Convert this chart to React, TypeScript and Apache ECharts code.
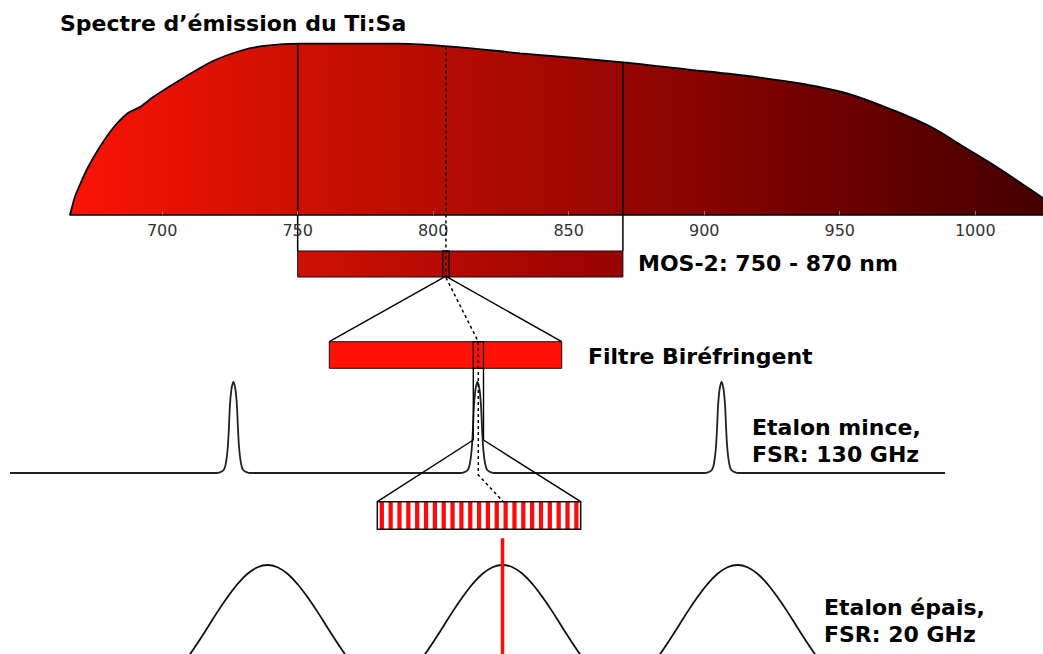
import React, { useEffect, useRef } from "react";
import * as echarts from "echarts";

// ---------- Emission spectrum of Ti:Sa (wavelength nm, relative intensity) ----------
const SPECTRUM_NM = [666, 667.8, 669.6, 672.7, 677, 681.9, 687.4, 691.8, 696.7, 707.2, 718.8, 729.9, 738.5, 750, 786.9, 809.9, 832.1, 870.2, 893.6, 918.2, 936.6, 953.9, 971.1, 984.6, 995.7, 1006.8, 1025];
const SPECTRUM_I = [0, 18, 30, 48, 68, 87, 102, 108, 118, 136, 154, 165, 169.3, 171.3, 171.3, 167.7, 161.7, 152.7, 145.7, 138.3, 131, 120.7, 103.3, 86.7, 68.3, 50, 17];
const AXIS_TICKS_NM = [700, 750, 800, 850, 900, 950, 1000];
const MOS_RANGE_NM = [750, 870];
const MOS_WINDOW_NM = [803.5, 805.9];
const SELECTED_NM = 804.7;

// ---------- Thin etalon (FSR 130 GHz) ----------
const THIN_RANGE_GHZ = [-249, 249];
const THIN_PEAKS_GHZ = [-130, 0, 130];
const THIN_PROFILE_OFFSET = [-9.1, -6.9, -5.3, -4.3, -3.5, -2.9, -2.4, -1.9, -1.3, -0.8, 0, 0.8, 1.3, 1.9, 2.4, 2.9, 3.5, 4.3, 5.3, 6.9, 9.1];
const THIN_PROFILE_T = [0, 0.01, 0.03, 0.08, 0.18, 0.31, 0.5, 0.73, 0.88, 0.95, 1, 0.95, 0.88, 0.73, 0.5, 0.31, 0.18, 0.08, 0.03, 0.01, 0];

// ---------- Thick etalon (FSR 20 GHz) ----------
const THICK_PEAKS_GHZ = [-20, 0, 20];
const THICK_PROFILE_OFFSET = [-7.66, -6.81, -5.96, -5.11, -4.26, -3.4, -2.55, -1.7, -0.85, 0, 0.85, 1.7, 2.55, 3.4, 4.26, 5.11, 5.96, 6.81, 7.66];
const THICK_PROFILE_T = [0.288, 0.375, 0.473, 0.577, 0.684, 0.784, 0.872, 0.941, 0.985, 1, 0.985, 0.941, 0.872, 0.784, 0.684, 0.577, 0.473, 0.375, 0.288];
const SELECTED_GHZ = 0;

// ---------- Schematic (diagram pixel space) ----------
const FILTER_BAR = [329.3, 341.7, 561.7, 368.3];
const FILTER_WINDOW = [473.3, 341.7, 483.5, 368.3];
const STRIPED_BAR = [377.3, 501.7, 580.7, 529.3];
const STRIPE_COUNT = 23;
const MOS_TO_FILTER_L = [[443.3, 277.7], [329.3, 341.7]];
const MOS_TO_FILTER_R = [[448.3, 277.7], [561.7, 341.7]];
const FILTER_DROP_L = [[473.3, 368.3], [473.3, 440]];
const FILTER_DROP_R = [[483.5, 368.3], [483.5, 440]];
const DROP_TO_STRIPES_L = [[473.3, 440], [377.3, 501.7]];
const DROP_TO_STRIPES_R = [[483.5, 440], [580.7, 501.7]];
const DOTTED_PATH = [[446, 277.7], [478.3, 341.7], [478.3, 475], [503.3, 501.7]];

const LABELS = [
  { text: "Spectre d\u2019émission du Ti:Sa", x: 60, y: 23 },
  { text: "MOS-2: 750 - 870 nm", x: 638, y: 263.5 },
  { text: "Filtre Biréfringent", x: 588, y: 356 },
  { text: "Etalon mince,", x: 752, y: 427.5 },
  { text: "FSR: 130 GHz", x: 752, y: 454 },
  { text: "Etalon épais,", x: 824, y: 607.5 },
  { text: "FSR: 20 GHz", x: 824, y: 634 },
];

function interp(xs: number[], ys: number[], x: number) {
  for (let i = 0; i < xs.length - 1; i++) {
    if (x >= xs[i] && x <= xs[i + 1]) {
      const t = (x - xs[i]) / (xs[i + 1] - xs[i]);
      return ys[i] + t * (ys[i + 1] - ys[i]);
    }
  }
  return 0;
}

function lineSeries(xi: number, yi: number, data: number[][], color: string, width: number, type: any = "solid", z = 4, extra: any = {}) {
  return {
    type: "line",
    xAxisIndex: xi,
    yAxisIndex: yi,
    data,
    symbol: "none",
    silent: true,
    clip: false,
    z,
    lineStyle: { color, width, type },
    ...extra,
  };
}

function rectSeries(xi: number, yi: number, r: number[], style: any, z = 3) {
  return {
    type: "custom",
    xAxisIndex: xi,
    yAxisIndex: yi,
    z,
    clip: false,
    silent: true,
    data: [r],
    encode: { x: [0, 2], y: [1, 3] },
    renderItem: (_p: any, api: any) => {
      const a = api.coord([api.value(0), api.value(1)]);
      const b = api.coord([api.value(2), api.value(3)]);
      return {
        type: "rect",
        shape: {
          x: Math.min(a[0], b[0]),
          y: Math.min(a[1], b[1]),
          width: Math.abs(b[0] - a[0]),
          height: Math.abs(b[1] - a[1]),
        },
        style,
      };
    },
  };
}

function buildPeaks(range: number[], centers: number[], offs: number[], vals: number[], edge: number) {
  const out: number[][] = [[range[0], edge]];
  centers.forEach((c) => {
    offs.forEach((o, i) => out.push([c + o, vals[i]]));
  });
  out.push([range[1], edge]);
  return out;
}

export default function App() {
  const ref = useRef<HTMLDivElement>(null);

  useEffect(() => {
    if (!ref.current) return;
    const chart = echarts.init(ref.current, null, { renderer: "svg" });

    const spectrumData = SPECTRUM_NM.map((x, i) => [x, SPECTRUM_I[i]]);
    const thinData = buildPeaks(THIN_RANGE_GHZ, THIN_PEAKS_GHZ, THIN_PROFILE_OFFSET, THIN_PROFILE_T, 0);
    const thickData = buildPeaks([-30, 30], THICK_PEAKS_GHZ, THICK_PROFILE_OFFSET, THICK_PROFILE_T, 0.288);

    const mosTop = -36;
    const mosBottom = -62;

    const stripeSeries = {
      type: "custom",
      xAxisIndex: 1,
      yAxisIndex: 1,
      z: 4,
      clip: false,
      silent: true,
      data: Array.from({ length: STRIPE_COUNT }, (_, i) => [i]),
      renderItem: (_p: any, api: any) => {
        const a = api.coord([STRIPED_BAR[0], STRIPED_BAR[1]]);
        const b = api.coord([STRIPED_BAR[2], STRIPED_BAR[3]]);
        const p = (b[0] - a[0]) / STRIPE_COUNT;
        const i = api.value(0);
        return {
          type: "rect",
          shape: { x: a[0] + (i + 0.27) * p, y: a[1], width: p * 0.48, height: b[1] - a[1] },
          style: { fill: "#ff0a0a" },
        };
      },
    };

    const option: any = {
      animation: false,
      backgroundColor: "#ffffff",
      grid: [
        { left: 70, top: 15, width: 973, height: 200 },
        { left: 0, top: 0, width: 1043, height: 654 },
        { left: 10, top: 382, width: 935, height: 91 },
        { left: 150, top: 565, width: 705, height: 89 },
        { left: 70, top: 15, width: 973, height: 270 },
      ],
      xAxis: [
        {
          type: "value",
          gridIndex: 0,
          min: 666,
          max: 1025,
          z: 6,
          axisLine: { show: true, onZero: false, lineStyle: { color: "#000", width: 1.6 } },
          axisTick: {
            show: true,
            inside: true,
            length: 4,
            customValues: AXIS_TICKS_NM,
            lineStyle: { color: "#777", width: 1 },
          },
          axisLabel: {
            show: true,
            customValues: AXIS_TICKS_NM,
            formatter: (v: number) => String(v),
            color: "#333",
            fontSize: 16,
            fontFamily: "DejaVu Sans",
            margin: 7,
          },
          splitLine: { show: false },
        },
        { type: "value", gridIndex: 1, min: 0, max: 1043, show: false },
        { type: "value", gridIndex: 2, min: THIN_RANGE_GHZ[0], max: THIN_RANGE_GHZ[1], show: false },
        { type: "value", gridIndex: 3, min: -30, max: 30, show: false },
        { type: "value", gridIndex: 4, min: 666, max: 1025, show: false },
      ],
      yAxis: [
        { type: "value", gridIndex: 0, min: 0, max: 200, show: false, splitLine: { show: false } },
        { type: "value", gridIndex: 1, min: 0, max: 654, inverse: true, show: false },
        { type: "value", gridIndex: 2, min: 0, max: 1, show: false },
        { type: "value", gridIndex: 3, min: 0.4, max: 1, show: false },
        { type: "value", gridIndex: 4, min: -70, max: 200, show: false },
      ],
      series: [
        // spectrum
        {
          type: "line",
          xAxisIndex: 0,
          yAxisIndex: 0,
          data: spectrumData,
          symbol: "none",
          smooth: 0.3,
          silent: true,
          z: 2,
          lineStyle: { color: "#000", width: 1.8 },
          areaStyle: {
            opacity: 1,
            color: new echarts.graphic.LinearGradient(0, 0, 1, 0, [
              { offset: 0, color: "#fa1406" },
              { offset: 0.236, color: "#cc1000" },
              { offset: 0.51, color: "#a00800" },
              { offset: 0.79, color: "#6c0000" },
              { offset: 0.93, color: "#520000" },
              { offset: 1, color: "#440000" },
            ]),
          },
        },
        lineSeries(4, 4, [[MOS_RANGE_NM[0], interp(SPECTRUM_NM, SPECTRUM_I, MOS_RANGE_NM[0])], [MOS_RANGE_NM[0], mosTop]], "#000", 1.5),
        lineSeries(4, 4, [[MOS_RANGE_NM[1], interp(SPECTRUM_NM, SPECTRUM_I, MOS_RANGE_NM[1])], [MOS_RANGE_NM[1], mosTop]], "#000", 1.5),
        // MOS bar
        rectSeries(4, 4, [MOS_RANGE_NM[0], mosTop, MOS_RANGE_NM[1], mosBottom], {
          fill: new echarts.graphic.LinearGradient(0, 0, 1, 0, [
            { offset: 0, color: "#cf1104" },
            { offset: 1, color: "#960200" },
          ]),
          stroke: "#111",
          lineWidth: 1,
        }),
        rectSeries(4, 4, [MOS_WINDOW_NM[0], mosTop, MOS_WINDOW_NM[1], mosBottom], { fill: "none", stroke: "#000", lineWidth: 1.3 }, 5),
        lineSeries(4, 4, [[SELECTED_NM, interp(SPECTRUM_NM, SPECTRUM_I, SELECTED_NM)], [SELECTED_NM, mosBottom]], "#000", 1.5, [3, 3], 6),
        // filter bar
        rectSeries(1, 1, FILTER_BAR, { fill: "#ff1205", stroke: "#111", lineWidth: 1 }),
        rectSeries(1, 1, FILTER_WINDOW, { fill: "none", stroke: "#000", lineWidth: 1.3 }, 5),
        lineSeries(1, 1, MOS_TO_FILTER_L, "#000", 1.4),
        lineSeries(1, 1, MOS_TO_FILTER_R, "#000", 1.4),
        lineSeries(1, 1, FILTER_DROP_L, "#000", 1.4),
        lineSeries(1, 1, FILTER_DROP_R, "#000", 1.4),
        lineSeries(1, 1, DROP_TO_STRIPES_L, "#000", 1.4),
        lineSeries(1, 1, DROP_TO_STRIPES_R, "#000", 1.4),
        // striped bar
        rectSeries(1, 1, STRIPED_BAR, { fill: "#ffffff", stroke: "none" }, 3),
        stripeSeries,
        rectSeries(1, 1, STRIPED_BAR, { fill: "none", stroke: "#111", lineWidth: 1.5 }, 5),
        lineSeries(1, 1, DOTTED_PATH, "#000", 1.5, [3, 3], 6),
        // thin etalon
        lineSeries(2, 2, thinData, "#222", 1.8, "solid", 3, { smooth: 0.25 }),
        // thick etalon
        lineSeries(3, 3, thickData, "#111", 1.8, "solid", 3, { smooth: 0.4, clip: true }),
        lineSeries(3, 3, [[SELECTED_GHZ, 1.18], [SELECTED_GHZ, 0.4]], "#ff0a0a", 3.5, "solid", 6),
      ],
      graphic: LABELS.map((l) => ({
        type: "text",
        x: l.x,
        y: l.y,
        silent: true,
        style: {
          text: l.text,
          fill: "#000",
          fontSize: 22,
          fontWeight: "bold",
          fontFamily: "DejaVu Sans",
          verticalAlign: "middle",
          align: "left",
        },
      })),
    };

    chart.setOption(option);
    return () => chart.dispose();
  }, []);

  return (
    <div
      ref={ref}
      style={{ position: "absolute", left: 0, top: 0, width: 1043, height: 654, background: "#fff" }}
    />
  );
}
